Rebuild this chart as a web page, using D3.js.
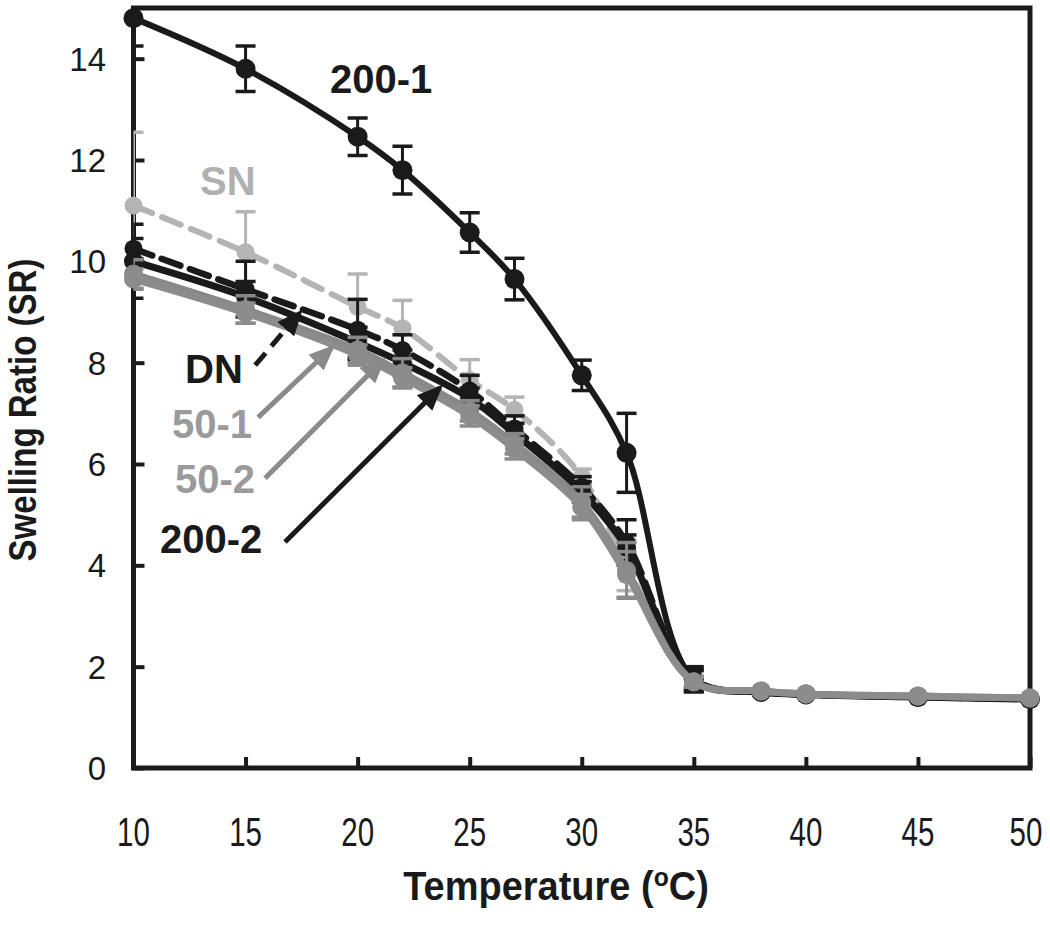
<!DOCTYPE html>
<html><head><meta charset="utf-8">
<script src="https://cdn.jsdelivr.net/npm/d3@7"></script>
<style>body{margin:0;background:#fff}svg{display:block}</style>
</head><body>
<svg id="chart" width="1050" height="925"></svg>
<script>
// ---- data ----
const temps = [10, 15, 20, 22, 25, 27, 30, 32, 35, 38, 40, 45, 50];
const xTicks = [10, 15, 20, 25, 30, 35, 40, 45, 50];
const yTicks = [0, 2, 4, 6, 8, 10, 12, 14];

const sr_200_1 = [14.8, 13.8, 12.46, 11.8, 10.57, 9.65, 7.75, 6.22, 1.75, 1.5, 1.45, 1.4, 1.36];
const err_200_1 = [0.55, 0.45, 0.37, 0.47, 0.39, 0.41, 0.3, 0.78, 0.25, 0, 0, 0, 0];
const sr_SN = [11.1, 10.18, 9.1, 8.68, 7.66, 7.07, 5.75, 4.0, 1.72, 1.52, 1.46, 1.42, 1.38];
const err_SN = [1.45, 0.8, 0.65, 0.55, 0.4, 0.25, 0.15, 0.5, 0.1, 0, 0, 0, 0];
const sr_DN = [10.25, 9.45, 8.65, 8.25, 7.45, 6.7, 5.55, 4.45, 1.75, 1.5, 1.45, 1.4, 1.36];
const err_DN = [0.2, 0.55, 0.6, 0.3, 0.3, 0.25, 0.2, 0.45, 0.2, 0, 0, 0, 0];
const sr_200_2 = [10.0, 9.3, 8.4, 8.0, 7.3, 6.6, 5.45, 4.35, 1.72, 1.5, 1.45, 1.4, 1.36];
const err_200_2 = [0.73, 0.3, 0.3, 0.25, 0.2, 0.2, 0.2, 0.25, 0.2, 0, 0, 0, 0];
const sr_50_1 = [9.75, 9.05, 8.25, 7.8, 7.05, 6.4, 5.25, 3.9, 1.7, 1.52, 1.46, 1.42, 1.38];
const err_50_1 = [0.28, 0.27, 0.25, 0.28, 0.2, 0.2, 0.3, 0.55, 0.1, 0, 0, 0, 0];
const sr_50_2 = [9.65, 8.98, 8.15, 7.7, 6.95, 6.3, 5.15, 3.82, 1.7, 1.52, 1.46, 1.42, 1.38];
const err_50_2 = [0.2, 0.2, 0.2, 0.2, 0.2, 0.2, 0.25, 0.45, 0.1, 0, 0, 0, 0];

// drawing order (first = bottom)
const seriesNames = ["200-1", "SN", "DN", "200-2", "50-1", "50-2"];

// annotation labels (data units: x, y of text baseline start)
const labelNames = ["200-1", "SN", "DN", "50-1", "50-2", "200-2"];
const labelX = [18.77, 12.97, 12.3, 11.72, 11.85, 11.18];
const labelY = [13.33, 11.3, 7.59, 6.51, 5.42, 4.24];
// arrows (data units)
const arrowNames = ["DN", "50-1", "50-2", "200-2"];
const arrowFrom = [[15.43, 7.95], [15.56, 6.92], [15.87, 5.72], [16.76, 4.46]];
const arrowTo = [[17.43, 8.99], [18.86, 8.30], [21.13, 8.05], [23.68, 7.51]];

// ---- styles ----
const styles = {
  "200-1": {color: "#1a1a1a", dash: null, r: 10, w: 6},
  "DN":    {color: "#1a1a1a", dash: "20,10", r: 9, w: 6.5},
  "200-2": {color: "#1a1a1a", dash: null, r: 9.5, w: 7},
  "50-1":  {color: "#888888", dash: null, r: 9.5, w: 7},
  "50-2":  {color: "#8c8c8c", dash: null, r: 9.5, w: 7},
  "SN":    {color: "#b4b4b4", dash: "20,11", r: 9, w: 6}
};
const labelColors = {"200-1": "#1a1a1a", "SN": "#b0b0b0", "DN": "#1a1a1a", "50-1": "#9a9a9a", "50-2": "#9a9a9a", "200-2": "#1a1a1a"};
const arrowColors = {"DN": "#1a1a1a", "50-1": "#8a8a8a", "50-2": "#8a8a8a", "200-2": "#1a1a1a"};

const dataMap = {
  "200-1": [sr_200_1, err_200_1], "SN": [sr_SN, err_SN], "DN": [sr_DN, err_DN],
  "200-2": [sr_200_2, err_200_2], "50-1": [sr_50_1, err_50_1], "50-2": [sr_50_2, err_50_2]
};

const svg = d3.select("#chart");
const L = 133.5, R = 1030, T = 8, B = 768;
const x = d3.scaleLinear().domain([10, 50]).range([L, R]);
const y = d3.scaleLinear().domain([0, 15]).range([B, T]);

svg.append("defs").append("clipPath").attr("id", "clip")
  .append("rect").attr("x", L).attr("y", T).attr("width", R - L).attr("height", B - T);

// frame
svg.append("rect").attr("x", L).attr("y", T).attr("width", R - L).attr("height", B - T)
  .attr("fill", "none").attr("stroke", "#1a1a1a").attr("stroke-width", 5);

// y axis ticks (inward)
const yAxis = d3.axisRight(y).tickValues(yTicks).tickSize(11).tickFormat("");
const gy = svg.append("g").attr("transform", `translate(${L},0)`).call(yAxis);
gy.select(".domain").remove();
gy.selectAll(".tick line").attr("stroke", "#1a1a1a").attr("stroke-width", 4);
// x axis ticks (inward)
const xAxis = d3.axisTop(x).tickValues(xTicks).tickSize(11).tickFormat("");
const gx = svg.append("g").attr("transform", `translate(0,${B})`).call(xAxis);
gx.select(".domain").remove();
gx.selectAll(".tick line").attr("stroke", "#1a1a1a").attr("stroke-width", 4);

// tick labels
svg.append("g").selectAll("text").data(yTicks).join("text")
  .attr("x", 106).attr("y", d => y(d)).attr("dy", "0.36em")
  .attr("text-anchor", "end").attr("font-family", "Liberation Sans, Arial, sans-serif")
  .attr("font-size", 33).attr("fill", "#1a1a1a").text(d => d);
svg.append("g").selectAll("text").data(xTicks).join("text")
  .attr("transform", d => `translate(${x(d) - (d === 50 ? 4 : 0)},846) scale(0.72,1)`)
  .attr("text-anchor", "middle").attr("font-family", "Liberation Sans, Arial, sans-serif")
  .attr("font-size", 41).attr("fill", "#1a1a1a").text(d => d);

// axis titles
const xt = svg.append("text").attr("transform", "translate(556,900) scale(0.95,1)")
  .attr("text-anchor", "middle")
  .attr("font-family", "Liberation Sans, Arial, sans-serif").attr("font-weight", "bold")
  .attr("font-size", 40).attr("fill", "#1a1a1a");
xt.append("tspan").text("Temperature (");
xt.append("tspan").attr("font-size", 26).attr("dy", -14).text("o");
xt.append("tspan").attr("dy", 14).text("C)");
svg.append("text").attr("transform", "translate(36,410) rotate(-90) scale(0.87,1)")
  .attr("text-anchor", "middle").attr("font-family", "Liberation Sans, Arial, sans-serif")
  .attr("font-weight", "bold").attr("font-size", 38).attr("fill", "#1a1a1a")
  .text("Swelling Ratio (SR)");

// series
const line = d3.line().x(d => x(d[0])).y(d => y(d[1])).curve(d3.curveCatmullRom.alpha(0.5));
const plot = svg.append("g");
seriesNames.forEach(name => {
  const st = styles[name];
  const [vals, errs] = dataMap[name];
  const pts = temps.map((t, i) => [t, vals[i], errs[i]]);
  const g = plot.append("g");
  // error bars
  const eg = g.append("g").attr("clip-path", "url(#clip)");
  pts.filter(p => p[2] > 0).forEach(p => {
    const cx = x(p[0]), y1 = y(p[1] + p[2]), y2 = y(p[1] - p[2]);
    eg.append("line").attr("x1", cx).attr("x2", cx).attr("y1", y1).attr("y2", y2)
      .attr("stroke", st.color).attr("stroke-width", 3);
    [y1, y2].forEach(yy => eg.append("line").attr("x1", cx - 10).attr("x2", cx + 10)
      .attr("y1", yy).attr("y2", yy).attr("stroke", st.color).attr("stroke-width", 3.5));
  });
  g.append("path").datum(pts).attr("d", line).attr("fill", "none")
    .attr("stroke", st.color).attr("stroke-width", st.w)
    .attr("stroke-dasharray", st.dash).attr("stroke-linecap", st.dash ? "round" : "butt");
  g.selectAll("circle").data(pts).join("circle")
    .attr("cx", d => x(d[0])).attr("cy", d => y(d[1])).attr("r", st.r).attr("fill", st.color);
});

// arrows
const defs = svg.select("defs");
arrowNames.forEach((n, i) => {
  defs.append("marker").attr("id", "ah" + i).attr("markerUnits", "userSpaceOnUse")
    .attr("viewBox", "0 0 26 22").attr("refX", 22).attr("refY", 11)
    .attr("markerWidth", 26).attr("markerHeight", 22).attr("orient", "auto")
    .append("path").attr("d", "M0,0 L26,11 L0,22 Z").attr("fill", arrowColors[n]);
});
arrowNames.forEach((n, i) => {
  svg.append("line")
    .attr("x1", x(arrowFrom[i][0])).attr("y1", y(arrowFrom[i][1]))
    .attr("x2", x(arrowTo[i][0])).attr("y2", y(arrowTo[i][1]))
    .attr("stroke", arrowColors[n]).attr("stroke-width", 5)
    .attr("stroke-dasharray", n === "DN" ? "16,9" : null)
    .attr("marker-end", `url(#ah${i})`);
});

// labels
svg.append("g").selectAll("text").data(labelNames).join("text")
  .attr("x", (d, i) => x(labelX[i])).attr("y", (d, i) => y(labelY[i]))
  .attr("font-family", "Liberation Sans, Arial, sans-serif").attr("font-weight", "bold")
  .attr("font-size", 40).attr("fill", d => labelColors[d]).text(d => d);
</script>
</body></html>
